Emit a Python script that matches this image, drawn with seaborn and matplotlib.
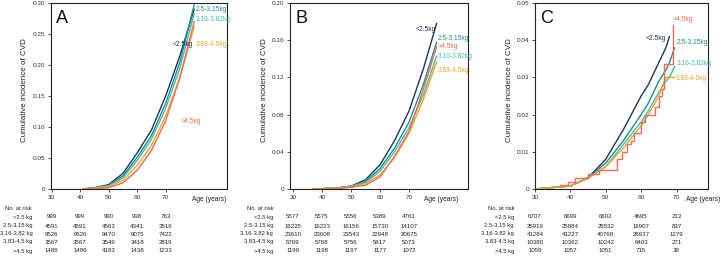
import numpy as np
import pandas as pd
import matplotlib
matplotlib.use("Agg")
import matplotlib.pyplot as plt
import matplotlib.transforms as mtransforms
import seaborn as sns

groups = ["<2.5 kg", "2.5-3.15 kg", "3.16-3.82 kg", "3.83-4.5 kg", ">4.5 kg"]
curve_labels = ["<2.5kg", "2.5-3.15kg", "3.16-3.82kg", "3.83-4.5kg", ">4.5kg"]
colors = ["#1d3557", "#1f8a9c", "#3fbfae", "#f5a524", "#f26a4f"]

# panel A
ages_a = [41, 45, 50, 55, 60, 65, 70, 75, 80]
cvd_a = [
    [0, 0.002, 0.007, 0.025, 0.058, 0.095, 0.150, 0.215, 0.290],
    [0, 0.002, 0.006, 0.021, 0.051, 0.086, 0.138, 0.205, 0.297],
    [0, 0.002, 0.005, 0.018, 0.046, 0.080, 0.130, 0.195, 0.283],
    [0, 0.001, 0.004, 0.014, 0.038, 0.070, 0.118, 0.180, 0.262],
    [0, 0.000, 0.002, 0.010, 0.030, 0.062, 0.110, 0.180, 0.270],
]
risk_a = [[999, 999, 990, 938, 763],
          [4591, 4591, 4563, 4341, 3516],
          [9526, 9526, 9470, 9075, 7422],
          [3567, 3567, 3549, 3418, 2819],
          [1486, 1486, 4183, 1438, 1233]]

# panel B
ages_b = [37, 45, 50, 55, 60, 65, 70, 75, 79.5]
cvd_b = [
    [0, 0.001, 0.003, 0.010, 0.026, 0.052, 0.084, 0.130, 0.178],
    [0, 0.001, 0.003, 0.008, 0.022, 0.044, 0.072, 0.113, 0.158],
    [0, 0.001, 0.003, 0.007, 0.019, 0.040, 0.066, 0.102, 0.143],
    [0, 0.001, 0.002, 0.006, 0.015, 0.034, 0.060, 0.097, 0.137],
    [0, 0.000, 0.002, 0.004, 0.013, 0.035, 0.062, 0.108, 0.153],
]
risk_b = [[5577, 5575, 5556, 5389, 4761],
          [16225, 16223, 16156, 15730, 14107],
          [23610, 23608, 23543, 22948, 20675],
          [5769, 5768, 5756, 5617, 5073],
          [1199, 1198, 1197, 1177, 1072]]

# panel C
ages_c = [30, 40, 45, 50, 55, 60, 62, 65, 67, 68, 69.5]
cvd_c = [
    [0, 0.0008, 0.003, 0.008, 0.016, 0.025, 0.028, 0.034, 0.038, 0.041, None],
    [0, 0.0008, 0.003, 0.007, 0.013, 0.020, 0.023, 0.029, 0.032, 0.034, 0.038],
    [0, 0.0008, 0.003, 0.006, 0.012, 0.018, 0.021, 0.026, 0.029, 0.030, 0.033],
    [0, 0.0008, 0.0028, 0.006, 0.011, 0.017, 0.020, 0.025, 0.030, 0.030, 0.030],
]
# >4.5 kg in panel C drawn as steps
ages_c_big = [37, 39.3, 41.3, 45, 48, 53.3, 54.5, 56, 57, 58, 60, 61, 64, 65, 66, 66.6, 68.9, 68.9]
cvd_c_big = [0.001, 0.002, 0.003, 0.004, 0.005, 0.008, 0.010, 0.012, 0.013, 0.015,
             0.018, 0.020, 0.022, 0.025, 0.027, 0.0337, 0.044, 0.044]
risk_c = [[6707, 6699, 6602, 4695, 213],
          [25919, 25884, 25532, 16907, 837],
          [41284, 41227, 40768, 26937, 1279],
          [10380, 10362, 10242, 6403, 271],
          [1059, 1057, 1051, 715, 39]]

risk_ages = [30, 40, 50, 60, 70]

sns.set_style("ticks")
plt.rcParams["font.family"] = ["Liberation Sans", "DejaVu Sans"]
fig = plt.figure(figsize=(7.22, 2.57), dpi=100)

panels = [
    dict(letter="A", rect=[0.0706, 0.2646, 0.2438, 0.7237], xlim=(29.8, 91.5),
         ylim=(0, 0.30), yticks=[0, 0.05, 0.10, 0.15, 0.20, 0.25, 0.30],
         agex=0.80, ylab_x=0.034, grp_x=32.5, nar_x=5,
         labels=[(79.5, 0.2335, "right"), (80.5, 0.289, "left"), (80.5, 0.274, "left"),
                 (80.5, 0.2335, "left"), (75.3, 0.109, "left")]),
    dict(letter="B", rect=[0.4017, 0.2646, 0.2465, 0.7237], xlim=(29, 90.3),
         ylim=(0, 0.20), yticks=[0, 0.04, 0.08, 0.12, 0.16, 0.20],
         agex=0.75, ylab_x=0.367, grp_x=273, nar_x=247,
         labels=[(79.3, 0.172, "right"), (80, 0.162, "left"), (80, 0.143, "left"),
                 (80, 0.127, "left"), (80, 0.153, "left")]),
    dict(letter="C", rect=[0.741, 0.2646, 0.2396, 0.7237], xlim=(30, 78.9),
         ylim=(0, 0.05), yticks=[0, 0.01, 0.02, 0.03, 0.04, 0.05],
         agex=0.875, ylab_x=0.706, grp_x=514, nar_x=488,
         labels=[(67.0, 0.0405, "right"), (70.0, 0.0395, "left"), (70.0, 0.0338, "left"),
                 (69.8, 0.0298, "left"), (69.0, 0.0455, "left")]),
]
all_ages = [ages_a, ages_b, ages_c]
all_cvd = [cvd_a, cvd_b, cvd_c]
all_risk = [risk_a, risk_b, risk_c]

for p, ages, cvd, risk in zip(panels, all_ages, all_cvd, all_risk):
    ax = fig.add_axes(p["rect"])
    for i, vals in enumerate(cvd):
        df = pd.DataFrame({"age": ages, "cvd": vals}).dropna()
        sns.lineplot(data=df, x="age", y="cvd", color=colors[i], lw=1.0, ax=ax,
                     estimator=None, sort=False)
    if p["letter"] == "C":
        df = pd.DataFrame({"age": ages_c_big, "cvd": cvd_c_big})
        sns.lineplot(data=df, x="age", y="cvd", color=colors[4], lw=1.0, ax=ax,
                     estimator=None, sort=False, drawstyle="steps-post")
    ax.set_xlim(*p["xlim"])
    ax.set_ylim(*p["ylim"])
    ax.set_xticks(risk_ages)
    ax.set_yticks(p["yticks"])
    ax.set_yticklabels(["0"] + [f"{v:.2f}" for v in p["yticks"][1:]])
    ax.tick_params(labelsize=4.6, length=2, width=0.6, pad=2, colors="#333333")
    for s in ax.spines.values():
        s.set_visible(True)
        s.set_linewidth(0.8)
        s.set_color("#222222")
    ax.set_xlabel("")
    ax.set_ylabel("")
    fig.text(p["ylab_x"], 0.65, "Cumulative incidence of CVD", rotation=90,
             ha="center", va="center", fontsize=5.8, color="#222222")
    ax.text(p["agex"], -0.04, "Age (years)", transform=ax.transAxes,
            ha="left", va="top", fontsize=4.8, color="#222222", clip_on=False)
    ax.text(0.03, 0.96, p["letter"], transform=ax.transAxes, ha="left", va="top",
            fontsize=13, color="#111111")
    for i, (x, y, ha) in enumerate(p["labels"]):
        ax.text(x, y, curve_labels[i], color=colors[i], fontsize=4.8, ha=ha, va="center")

    # number at risk table
    trans = mtransforms.blended_transform_factory(ax.transData, fig.transFigure)
    fig.text(p["nar_x"] / 722, 1 - 209 / 257, "No. at risk", fontsize=4.2,
             ha="left", va="center", color="#222222")
    row_y = [217, 226, 234, 242, 251]
    for r, g in enumerate(groups):
        fig.text(p["grp_x"] / 722, 1 - row_y[r] / 257, g, fontsize=4.2, ha="right",
                 va="center", color="#222222")
        for c, a in enumerate(risk_ages):
            ax.text(a, 1 - row_y[r] / 257, str(risk[r][c]), transform=trans,
                    fontsize=4.4, ha="center", va="center", color="#222222",
                    clip_on=False)

fig.savefig("out.png", dpi=100)
